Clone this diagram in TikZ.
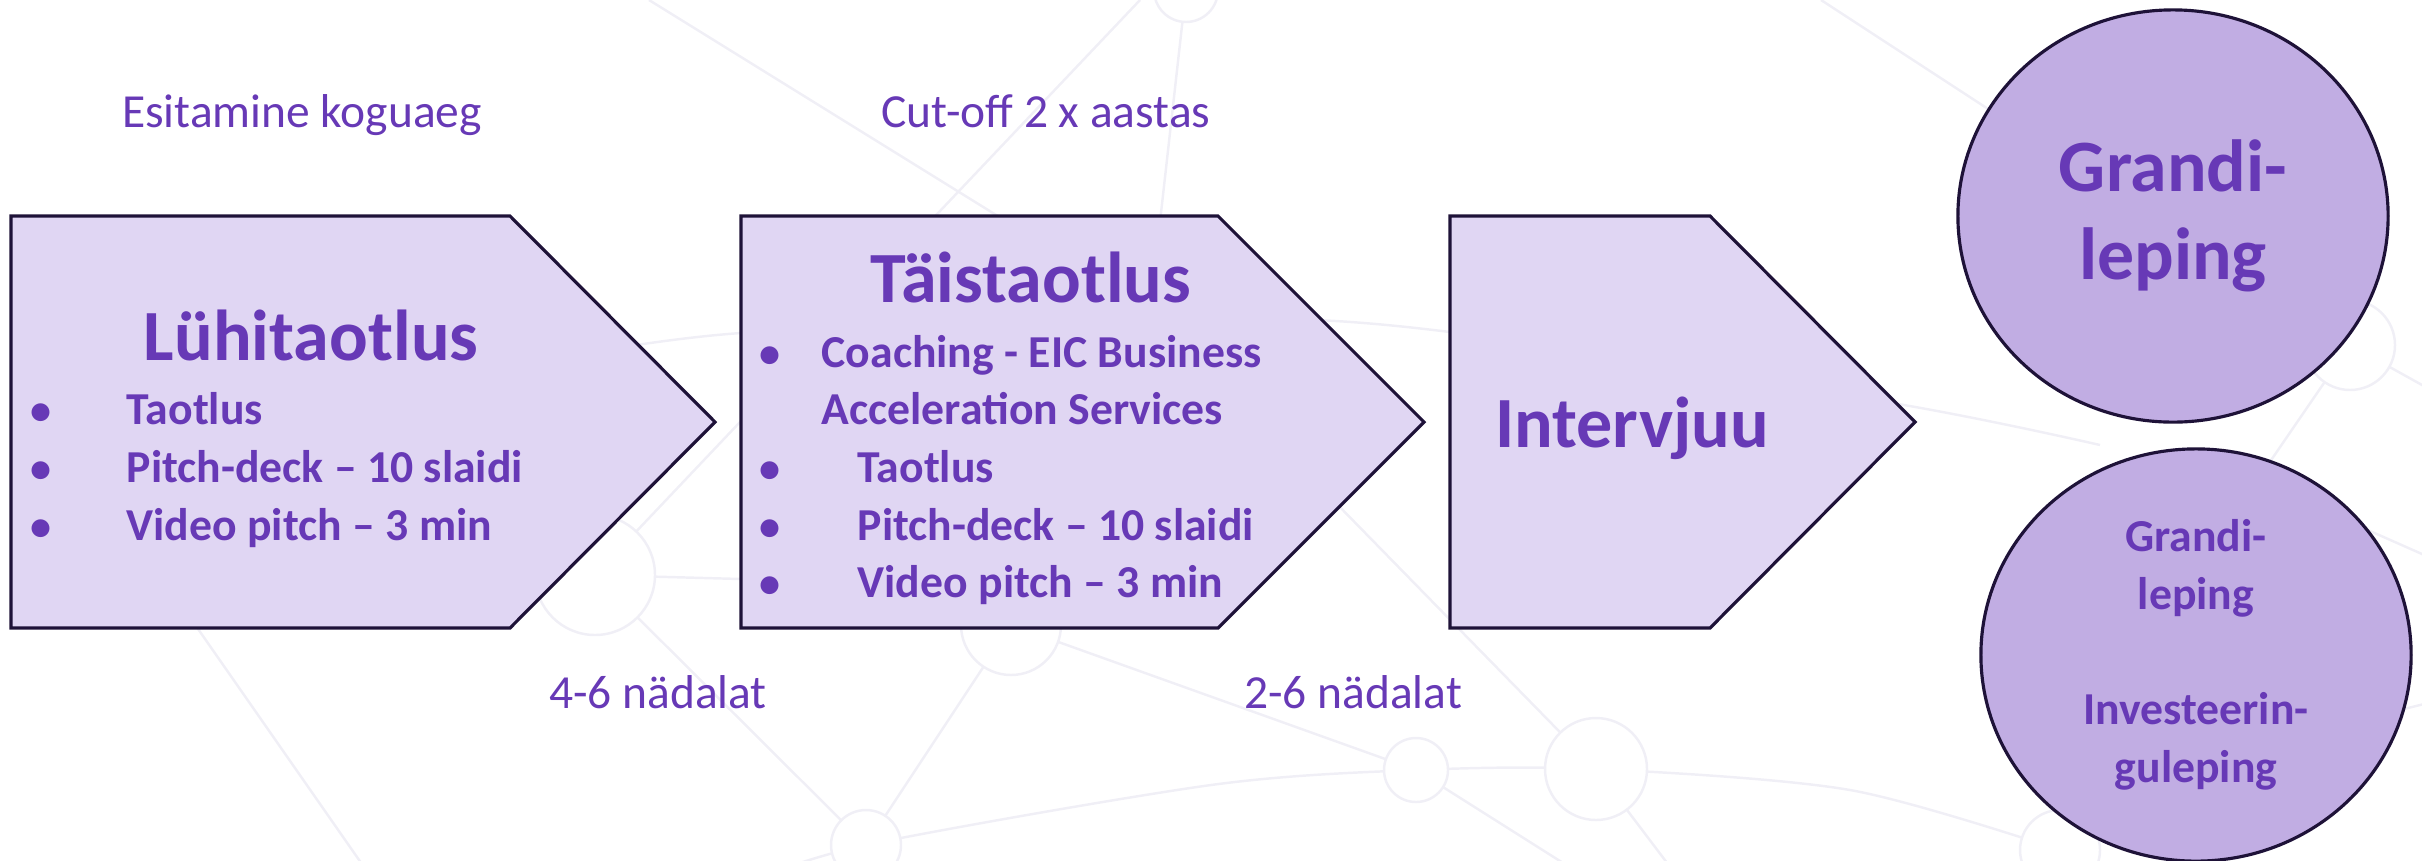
\documentclass[tikz,border=0pt]{standalone}
\usepackage{fontspec}
\setmainfont{Carlito}
\usetikzlibrary{shapes.geometric,positioning}
\definecolor{lilla}{HTML}{6739B6}
\definecolor{stagefill}{HTML}{E0D6F3}
\definecolor{resultfill}{HTML}{C1ADE3}
\definecolor{rim}{HTML}{1E1238}
\definecolor{netgrey}{HTML}{F0EFF6}
\tikzstyle{stage} = [draw=rim, line width=0.9pt, fill=stagefill]
\tikzstyle{result} = [ellipse, draw=rim, line width=0.9pt, fill=resultfill, text=lilla, inner sep=0pt, align=center, minimum width=4.3cm, minimum height=4.12cm]
\tikzstyle{heading} = [text=lilla, font=\fontsize{20.5}{25}\selectfont\bfseries, inner sep=0pt, anchor=base]
\tikzstyle{bulletline} = [text=lilla, font=\fontsize{13}{16}\selectfont\bfseries, inner sep=0pt, anchor=base west]
\tikzstyle{bulletdot} = [text=lilla, font=\fontsize{12}{16}\selectfont\bfseries, inner sep=0pt, anchor=base]
\tikzstyle{timing} = [text=lilla, font=\fontsize{13.5}{16}\selectfont, inner sep=0pt, anchor=base]
\tikzstyle{netline} = [draw=netgrey, line width=0.7pt]
\tikzstyle{netnode} = [draw=netgrey, line width=0.7pt, fill=white]

\begin{document}
\begin{tikzpicture}[x=0.01cm, y=-0.01cm]
	\useasboundingbox (0,0) rectangle (2422,860);

	% faint network in the background
	\draw [netline] (649,0) -- (1290,397);
	\draw [netline] (1200,364) -- (1596,769);
	\draw [netline] (1140,0) -- (595,575);
	\draw [netline] (1186,-10) -- (1140,400);
	\draw [netline] plot [smooth] coordinates {(520,365) (741,333) (1200,318) (1450,332) (1904,405) (2100,445)};
	\draw [netline] (595,575) -- (850,582);
	\draw [netline] (595,575) -- (866,845);
	\draw [netline] (150,560) -- (380,890);
	\draw [netline] (866,845) -- (1011,625) -- (1416,770);
	\draw [netline] plot [smooth] coordinates {(740,885) (866,845) (1211,785) (1416,770) (1596,769) (1850,790) (2060,850)};
	\draw [netline] (1416,770) -- (1590,880);
	\draw [netline] (1596,769) -- (1680,880);
	\draw [netline] (1821,0) -- (2350,345) -- (2440,395);
	\draw [netline] (2350,345) -- (2230,520);
	\draw [netline] (2300,500) -- (2440,562);
	\draw [netline] (2380,715) -- (2440,700);
	\foreach \cx/\cy/\r in {1186/-10/32, 595/575/60, 866/845/35, 1011/625/50, 1416/770/32, 1596/769/51, 2350/345/45, 2060/850/40}
		\draw [netnode] (\cx,\cy) circle [radius=\r];

	% the three stages
	\draw [stage] (11,216) -- (510,216) -- (715,422) -- (510,628) -- (11,628) -- cycle;
	\draw [stage] (741,216) -- (1218,216) -- (1424,422) -- (1218,628) -- (741,628) -- cycle;
	\draw [stage] (1450,216) -- (1710,216) -- (1915,422) -- (1710,628) -- (1450,628) -- cycle;

	\node (lyhi) [heading] at (311,360) {Lühitaotlus};
	\node (lyhi1) [bulletline] at (126,424) {Taotlus};
	\node (lyhi2) [bulletline] at (126,482) {Pitch-deck – 10 slaidi};
	\node (lyhi3) [bulletline] at (126,540) {Video pitch – 3 min};
	\foreach \y in {424,482,540}
		\node (ldot\y) [bulletdot] at (41,\y) {\textbullet};

	\node (tais) [heading] at (1031,302) {Täistaotlus};
	\node (tais1) [bulletline] at (821,367) {Coaching - EIC Business};
	\node (tais1b) [bulletline] at (821,424) {Acceleration Services};
	\node (tais2) [bulletline] at (857,482) {Taotlus};
	\node (tais3) [bulletline] at (857,540) {Pitch-deck – 10 slaidi};
	\node (tais4) [bulletline] at (857,597) {Video pitch – 3 min};
	\foreach \y in {367,482,540,597}
		\node (tdot\y) [bulletdot] at (770,\y) {\textbullet};

	\node (intervjuu) [heading] at (1632,447) {Intervjuu};

	% timing notes
	\node (anytime) [timing] at (302,127) {Esitamine koguaeg};
	\node (cutoff) [timing] at (1046,127) {Cut-off 2 x aastas};
	\node (weeks1) [timing] at (658,708) {4-6 nädalat};
	\node (weeks2) [timing] at (1353,708) {2-6 nädalat};

	% outcomes
	\node (grant) [result, font=\fontsize{21}{25}\selectfont\bfseries] at (2173,216) {Grandi-\\leping};
	\node (grantinv) [result, font=\fontsize{13}{16.4}\selectfont\bfseries] at (2196,655) {Grandi-\\leping\\[16.4pt]Investeerin-\\guleping};
\end{tikzpicture}
\end{document}
